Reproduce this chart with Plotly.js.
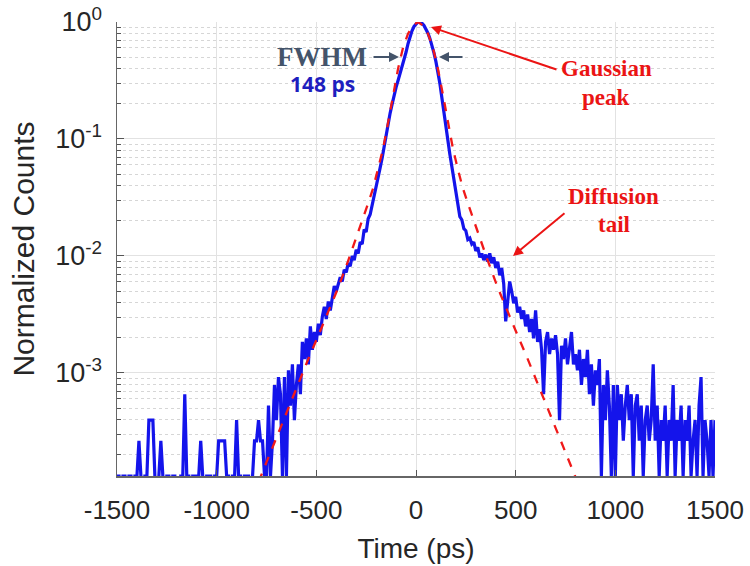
<!DOCTYPE html>
<html>
<head>
<meta charset="utf-8">
<script src="https://cdn.plot.ly/plotly-3.0.1.min.js"></script>
<style>html,body{margin:0;padding:0;background:#fff;}#chart{width:750px;height:566px;}</style>
</head>
<body>
<div id="chart"></div>
<script>
// Histogram bins: first bin centre and bin width (ps)
const binStart = -1500;
const binWidth = 10;
// Raw counts per 10-ps bin, -1500 ps ... +1500 ps
const blueCounts = [
  1,1,0,1,1,0,1,1,0,1,
  1,2,1,0,1,1,3,3,3,1,
  0,1,2,1,0,1,1,0,1,1,
  0,0,1,1,5,1,1,0,1,1,
  1,1,2,1,0,1,1,1,0,1,
  1,2,2,2,2,1,1,0,1,1,
  3,1,1,0,1,1,1,0,1,
  2,2,3,2,2,1,1,4,1,2,
  6,3,7,5,1,7,1,8,4,9,
  3,6,9,5,14,10,15,9,19,12,
  17,14,20,16,23,28,22,31,26,35,42,38,
  44,50,46,58,55,66,62,76,70,86,80,100,96,128,122,158,172,210,240,300,
  360,430,520,660,800,1020,1260,1500,1800,2100,2400,2750,3100,3550,4190,4960,5710,6390,6960,7360,
  7600,7560,7420,7100,6660,6100,5480,4810,4140,3480,2860,2250,1700,1250,960,740,560,440,340,260,
  205,165,155,130,125,105,108,96,100,84,90,74,80,70,78,68,80,66,74,60,68,52,60,44,21,32,46,38,30,34,
  25,28,22,26,19,24,17,22,15,26,14,18,12,5,14,17,11,15,12,16,11,3,13,10,15,9,12,17,9,11,8,12,6,10,7,12,5,9,4,8,6,10,1,6,3,8,4,1,6,1,
  6,3,5,2,4,6,3,5,1,4,5,2,4,1,3,4,2,3,9,2,4,1,3,2,4,1,3,2,6,1,3,2,4,1,3,2,4,1,2,3,1,4,7,1,3,2,1,3,1,3
];
// Fitted peak model (red dashed)
const fitTime = [-790,-740,-690,-640,-590,-540,-490,-440,-390,-340,-290,-240,-215,-190,-165,-140,-115,-90,-65,-40,-15,
  10,35,60,85,110,135,160,185,210,235,260,310,360,410,460,510,560,610,660,710,760,810];
const fitValue = [0.000117,0.000191,0.000309,0.000501,0.000813,0.00132,0.00209,0.00331,0.00537,0.00912,0.0158,0.0282,
  0.0380,0.0550,0.0832,0.138,0.240,0.398,0.603,0.794,0.933,1,
  0.933,0.794,0.603,0.398,0.240,0.138,0.0832,0.0550,0.0380,0.0282,0.0158,0.00912,0.00537,0.00331,0.00209,0.00132,
  0.000813,0.000501,0.000309,0.000191,0.000117];
const xTicks = [-1500,-1000,-500,0,500,1000,1500];
const yTicks = [1e-3,1e-2,1e-1,1];
const yTickText = ['10<sup>-3</sup>','10<sup>-2</sup>','10<sup>-1</sup>','10<sup>0</sup>'];

const peak = Math.max(...blueCounts);
const blueTime = blueCounts.map((_, i) => binStart + i * binWidth);
const blueNorm = blueCounts.map(c => c / peak);

const minorVals = [];
[1e-4,1e-3,1e-2,1e-1].forEach(d => { for (let k = 2; k <= 9; k++) minorVals.push(k * d); });

const W = 750, H = 566, L = 117, R = 35, T = 22, B = 90;
const pw = W - L - R, ph = H - T - B;
const px = x => (x - L) / pw;
const py = y => (H - B - y) / ph;

const serif = 'Liberation Serif, Times New Roman, serif';
function txt(text, x, y, size, color, family) {
  return {text: '<b>' + text + '</b>', xref: 'paper', yref: 'paper', x: px(x), y: py(y), xanchor: 'center', yanchor: 'middle',
    showarrow: false, font: {family: family || serif, size: size, color: color}};
}
function arrow(hx, hy, tx, ty, color, width) {
  return {text: '', xref: 'paper', yref: 'paper', x: px(hx), y: py(hy), ax: tx - hx, ay: ty - hy,
    axref: 'pixel', ayref: 'pixel', showarrow: true, arrowhead: 2, arrowsize: 1, arrowwidth: width, arrowcolor: color};
}

const traces = [
  {x: blueTime, y: blueNorm, type: 'scatter', mode: 'lines', line: {color: 'rgb(20,20,235)', width: 3.2}, hoverinfo: 'skip'},
  {x: fitTime, y: fitValue, type: 'scatter', mode: 'lines', line: {color: 'rgb(240,25,25)', width: 2.3, dash: 'dash'}, hoverinfo: 'skip'}
];

const layout = {
  width: W, height: H,
  margin: {l: L, r: R, t: T, b: B},
  paper_bgcolor: '#fff', plot_bgcolor: '#fff',
  showlegend: false,
  font: {family: 'Liberation Sans, Arial, sans-serif', color: '#262626'},
  xaxis: {
    range: [-1500, 1500], tickmode: 'array', tickvals: xTicks, ticktext: xTicks.map(String),
    ticks: 'inside', ticklen: 6, tickcolor: '#555', tickwidth: 1,
    showline: true, linecolor: '#666', linewidth: 1.5, mirror: false,
    showgrid: true, gridcolor: '#e2e2e2', gridwidth: 1, zeroline: false,
    tickfont: {size: 26, color: '#262626'},
    ticklabelstandoff: 10,
    title: {text: 'Time (ps)', font: {size: 28, color: '#262626'}, standoff: 14}
  },
  yaxis: {
    type: 'log', range: [Math.log10(1 / peak), 0],
    tickmode: 'array', tickvals: yTicks, ticktext: yTickText,
    ticks: 'inside', ticklen: 7, tickcolor: '#555', tickwidth: 1,
    showline: true, linecolor: '#666', linewidth: 1.5, mirror: false,
    showgrid: true, gridcolor: '#e2e2e2', gridwidth: 1, zeroline: false,
    minor: {tickmode: 'array', tickvals: minorVals, ticks: 'inside', ticklen: 4, tickcolor: '#555',
      showgrid: true, gridcolor: '#d6d6d6', gridwidth: 1, griddash: 'dot'},
    tickfont: {size: 27, color: '#262626'},
    ticklabelstandoff: 8,
    title: {text: 'Normalized Counts', font: {size: 30, color: '#262626'}, standoff: 12}
  },
  annotations: [
    txt('FWHM', 322, 57, 27, '#44546A'),
    txt('148 ps', 322, 84, 21, 'rgb(30,30,190)', 'Open Sans, Liberation Sans, sans-serif'),
    arrow(399, 57, 372, 57, '#44546A', 2),
    arrow(439, 57, 464, 57, '#44546A', 2),
    txt('Gaussian', 606, 68, 23, 'rgb(235,20,20)'),
    txt('peak', 606, 98, 23, 'rgb(235,20,20)'),
    arrow(431, 27, 558, 70, 'rgb(235,20,20)', 2),
    txt('Diffusion', 613, 196, 23, 'rgb(235,20,20)'),
    txt('tail', 614, 224, 23, 'rgb(235,20,20)'),
    arrow(513, 256, 566, 212, 'rgb(235,20,20)', 2)
  ]
};

Plotly.newPlot('chart', traces, layout, {staticPlot: true, displayModeBar: false});
</script>
</body>
</html>
